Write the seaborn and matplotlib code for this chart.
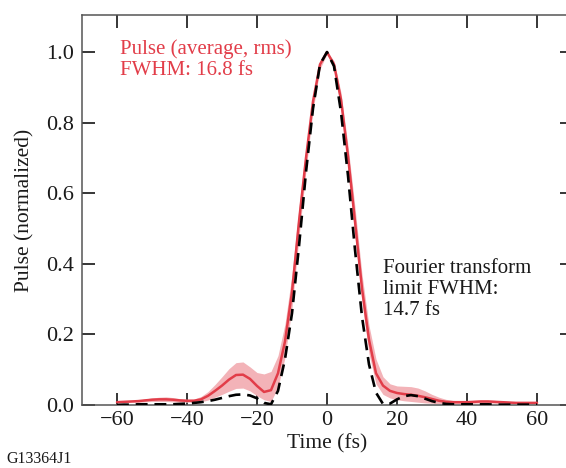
import numpy as np
import pandas as pd
import seaborn as sns
import matplotlib.pyplot as plt

# Time axis (fs)
time_fs = list(range(-60, 62, 2))

# Average measured pulse (normalized)
pulse_avg = [0.008, 0.009, 0.010, 0.011, 0.013, 0.015, 0.016, 0.016, 0.015, 0.013,
             0.012, 0.012, 0.016, 0.026, 0.040, 0.055, 0.072, 0.085, 0.086, 0.074,
             0.054, 0.037, 0.042, 0.090, 0.180, 0.320, 0.520, 0.700, 0.860, 0.965,
             1.000, 0.965, 0.865, 0.705, 0.520, 0.330, 0.185, 0.090, 0.055, 0.040,
             0.034, 0.031, 0.029, 0.026, 0.022, 0.017, 0.012, 0.009, 0.008, 0.008,
             0.008, 0.009, 0.010, 0.010, 0.009, 0.008, 0.007, 0.006, 0.006, 0.006,
             0.006]

# rms band
pulse_upper = [0.010, 0.011, 0.012, 0.014, 0.017, 0.020, 0.022, 0.023, 0.021, 0.018,
               0.016, 0.017, 0.024, 0.038, 0.058, 0.080, 0.103, 0.120, 0.122, 0.108,
               0.092, 0.088, 0.095, 0.140, 0.230, 0.370, 0.560, 0.730, 0.880, 0.975,
               1.000, 0.975, 0.885, 0.735, 0.560, 0.370, 0.225, 0.130, 0.080, 0.060,
               0.054, 0.053, 0.052, 0.048, 0.040, 0.030, 0.022, 0.016, 0.013, 0.012,
               0.012, 0.013, 0.014, 0.014, 0.013, 0.011, 0.010, 0.009, 0.008, 0.008,
               0.008]
pulse_lower = [0.006, 0.007, 0.008, 0.008, 0.009, 0.010, 0.010, 0.010, 0.009, 0.008,
               0.008, 0.008, 0.009, 0.014, 0.022, 0.030, 0.039, 0.047, 0.048, 0.040,
               0.026, 0.015, 0.010, 0.050, 0.135, 0.275, 0.475, 0.665, 0.835, 0.952,
               0.995, 0.952, 0.840, 0.670, 0.480, 0.290, 0.145, 0.060, 0.030, 0.020,
               0.015, 0.012, 0.010, 0.008, 0.006, 0.005, 0.004, 0.004, 0.004, 0.004,
               0.004, 0.005, 0.006, 0.006, 0.005, 0.005, 0.004, 0.004, 0.004, 0.004,
               0.004]

# Fourier-transform-limited pulse
pulse_ftl = [0.000, 0.001, 0.001, 0.002, 0.002, 0.002, 0.002, 0.002, 0.002, 0.003,
             0.004, 0.006, 0.008, 0.011, 0.015, 0.020, 0.025, 0.029, 0.030, 0.027,
             0.019, 0.006, 0.002, 0.040, 0.130, 0.260, 0.450, 0.660, 0.840, 0.965,
             1.000, 0.960, 0.830, 0.650, 0.440, 0.250, 0.115, 0.035, 0.003, 0.004,
             0.016, 0.025, 0.028, 0.025, 0.018, 0.011, 0.006, 0.003, 0.002, 0.002,
             0.002, 0.002, 0.002, 0.002, 0.001, 0.001, 0.001, 0.001, 0.001, 0.001,
             0.001]

df = pd.DataFrame({"time": time_fs, "avg": pulse_avg, "upper": pulse_upper,
                   "lower": pulse_lower, "ftl": pulse_ftl})

sns.set_style("ticks")
plt.rcParams["font.family"] = ["Liberation Serif", "DejaVu Serif"]
plt.rcParams["text.color"] = "#1a1a1a"
plt.rcParams["axes.labelcolor"] = "#1a1a1a"
plt.rcParams["xtick.labelcolor"] = "#1a1a1a"
plt.rcParams["ytick.labelcolor"] = "#1a1a1a"

red = "#e23d49"

fig = plt.figure(figsize=(5.66, 4.68), dpi=100)
ax = fig.add_axes([82 / 566, 63 / 468, 490 / 566, 390 / 468])

ax.fill_between(df["time"], df["lower"], df["upper"], color="#f3b3b8", lw=0, zorder=1)
sns.lineplot(data=df, x="time", y="avg", color=red, lw=1.8, ax=ax, zorder=2)
sns.lineplot(data=df, x="time", y="ftl", color="black", lw=1.9, ax=ax, zorder=3)
ax.lines[-1].set_dashes([4.5, 2.6])

ax.set_xlim(-70, 70)
ax.set_ylim(0, 1.105)
ax.set_xticks([-60, -40, -20, 0, 20, 40, 60])
ax.set_yticks([0.0, 0.2, 0.4, 0.6, 0.8, 1.0])
ax.set_yticklabels(["0.0", "0.2", "0.4", "0.6", "0.8", "1.0"])

ax.tick_params(direction="in", length=9, width=1.1, color="black",
               labelsize=16, top=True, right=True, pad=6)
ax.tick_params(axis="x", pad=4)
for side in ["left", "bottom", "top"]:
    ax.spines[side].set_color("#555555")
    ax.spines[side].set_linewidth(1.1)
ax.spines["right"].set_visible(False)

ax.set_xlabel("Time (fs)", fontsize=15.5, labelpad=3)
ax.set_ylabel("Pulse (normalized)", fontsize=15.5, labelpad=8)

ax.text(-59, 1.035, "Pulse (average, rms)\nFWHM: 16.8 fs", color=red,
        fontsize=15, va="top", ha="left", linespacing=1.1)
ax.text(16, 0.415, "Fourier transform\nlimit FWHM:\n14.7 fs",
        fontsize=15, va="top", ha="left", linespacing=1.15)

fig.text(6 / 566, 1 - 463 / 468, "G13364J1", fontsize=11.5,
         ha="left", va="baseline")

fig.savefig("out.png", dpi=100)
